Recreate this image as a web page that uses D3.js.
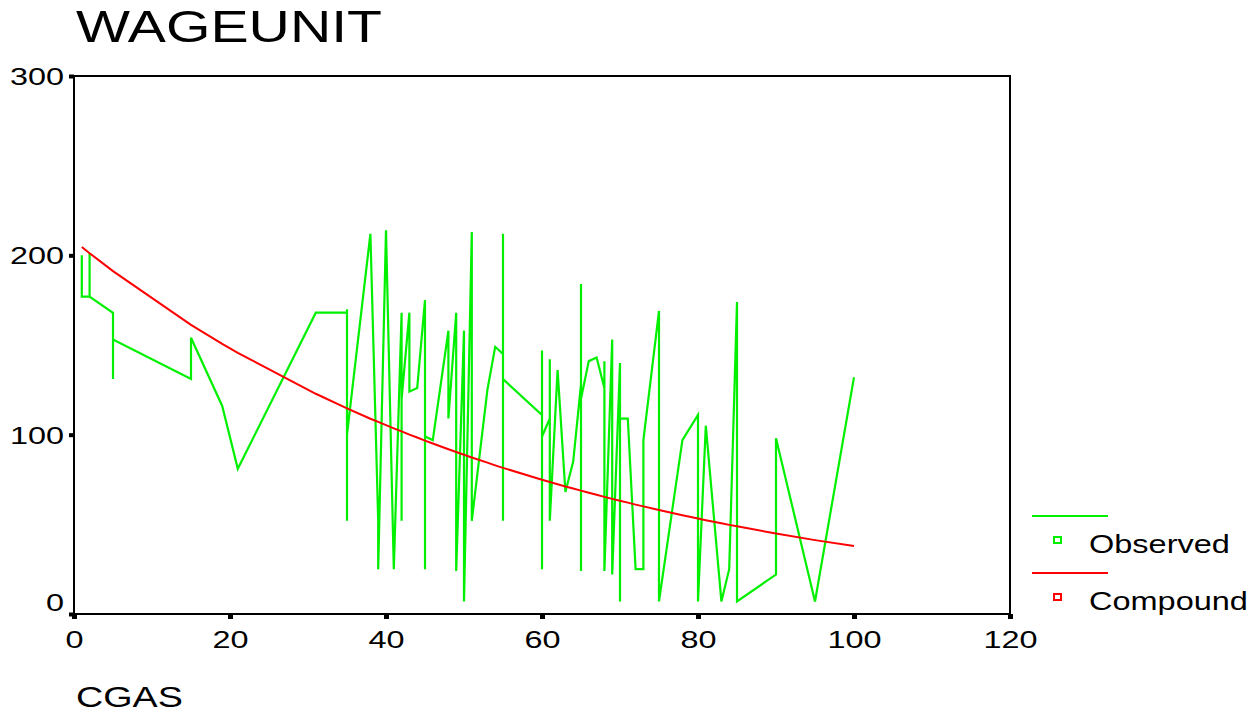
<!DOCTYPE html>
<html>
<head>
<meta charset="utf-8">
<script src="https://cdn.jsdelivr.net/npm/d3@7"></script>
<style>
  body { margin: 0; background: #fff; }
  text { font-family: "Liberation Sans", Arial, sans-serif; fill: #000; }
</style>
</head>
<body>
<div class="chart"></div>
<script>
// observed points (CGAS, WAGEUNIT) in drawing order
const cgas = [1,1,2,2,2,5,5,5,15,15,19,21,31,35,35,35,35,38,39,39,40,41,42,42,42,43,43,44,45,45,45,46,48,48,49,49,50,50,51,51,53,54,55,55,55,55,60,60,60,60,61,61,61,62,63,64,65,65,65,65,66,67,68,68,68,69,69,70,70,70,71,72,73,73,75,75,78,80,80,81,83,84,85,85,90,90,95,100];
const wageunit = [200,177,177,201,177,168,131,153,131,154,116,81,168,168,170,52,100,212,52,25,214,25,168,52,120,168,124,126,175,25,99,97,158,109,168,24,158,7,213,52,125,149,145,212,52,131,111,147,25,99,109,142,52,136,68,85,128,184,24,120,141,143,126,141,24,153,22,140,7,109,109,25,25,97,169,7,97,111,7,105,7,25,174,7,22,98,7,132];

// compound fit
const compoundX = [1,2,5,15,19,21,31,35,38,39,40,41,42,43,44,45,46,48,49,50,51,53,54,55,60,61,62,63,64,65,66,67,68,69,70,71,72,73,75,78,80,81,83,84,85,90,95,100];
const compoundY = [204.7,201.2,191.2,161.2,150.6,145.6,122.8,114.7,108.9,107.1,105.3,103.5,101.8,100.0,98.4,96.7,95.1,91.9,90.3,88.8,87.3,84.4,82.9,81.5,74.9,73.6,72.4,71.1,70.0,68.8,67.6,66.5,65.3,64.2,63.1,62.1,61.0,60.0,58.0,55.1,53.2,52.3,50.6,49.7,48.9,44.9,41.2,37.9];

const xTicks = [0, 20, 40, 60, 80, 100, 120];
const yTicks = [0, 100, 200, 300];
const seriesNames = ["Observed", "Compound"];
const seriesColors = ["#00f000", "#ff0000"];

const W = 1260, H = 715;
const margin = { top: 76, right: 250, bottom: 101, left: 74 };
const innerW = W - margin.left - margin.right;
const innerH = H - margin.top - margin.bottom;

const svg = d3.select(".chart").append("svg")
  .attr("width", W).attr("height", H);

const x = d3.scaleLinear().domain([0, 120]).range([0, innerW]);
const y = d3.scaleLinear().domain([0, 300]).range([innerH, 0]);

const g = svg.append("g").attr("transform", `translate(${margin.left},${margin.top})`);

// title and x label (stretched like the original output)
svg.append("text")
  .attr("transform", "translate(76,42) scale(1.3,1)")
  .style("font-size", "44px")
  .text("WAGEUNIT");

svg.append("text")
  .attr("transform", "translate(76,707) scale(1.3,1)")
  .style("font-size", "29px")
  .text("CGAS");

// frame
g.append("rect")
  .attr("width", innerW).attr("height", innerH)
  .attr("fill", "none").attr("stroke", "#000").attr("stroke-width", 2);

// axes
const xAxisG = g.append("g")
  .attr("transform", `translate(0,${innerH})`)
  .call(d3.axisBottom(x).tickValues(xTicks).tickSize(5).tickFormat(d3.format("d")));
xAxisG.select(".domain").remove();
xAxisG.selectAll(".tick line").attr("stroke", "#000").attr("stroke-width", 5);
xAxisG.selectAll(".tick text")
  .attr("y", 0).attr("dy", 0)
  .attr("transform", "translate(0,34) scale(1.35,1)")
  .style("font-size", "24px");

const yAxisG = g.append("g")
  .call(d3.axisLeft(y).tickValues(yTicks).tickSize(5).tickFormat(d3.format("d")));
yAxisG.select(".domain").remove();
yAxisG.selectAll(".tick line").attr("stroke", "#000").attr("stroke-width", 4);
yAxisG.selectAll(".tick text")
  .attr("x", 0).attr("dy", "0.35em")
  .attr("transform", d => `translate(-10,${d === 0 ? -12 : 0}) scale(1.35,1)`)
  .style("font-size", "24px");

// lines
const line = d3.line().x(d => x(d[0])).y(d => y(d[1]));

g.append("path")
  .datum(cgas.map((c, i) => [c, wageunit[i]]))
  .attr("d", line)
  .attr("fill", "none")
  .attr("stroke", seriesColors[0])
  .attr("stroke-width", 2.2)
  .attr("stroke-linejoin", "miter");

g.append("path")
  .datum(compoundX.map((c, i) => [c, compoundY[i]]))
  .attr("d", line)
  .attr("fill", "none")
  .attr("stroke", seriesColors[1])
  .attr("stroke-width", 2);

// legend
const legend = svg.append("g").attr("transform", "translate(1032,516)");
seriesNames.forEach((name, i) => {
  const lg = legend.append("g").attr("transform", `translate(0,${i * 57})`);
  lg.append("line")
    .attr("x1", 0).attr("x2", 76).attr("y1", 0).attr("y2", 0)
    .attr("stroke", seriesColors[i]).attr("stroke-width", 2);
  lg.append("rect")
    .attr("x", 22).attr("y", 21).attr("width", 7).attr("height", 6)
    .attr("fill", "none").attr("stroke", seriesColors[i]).attr("stroke-width", 2);
  lg.append("text")
    .attr("transform", "translate(57,37) scale(1.3,1)")
    .style("font-size", "25px")
    .text(name);
});
</script>
</body>
</html>
